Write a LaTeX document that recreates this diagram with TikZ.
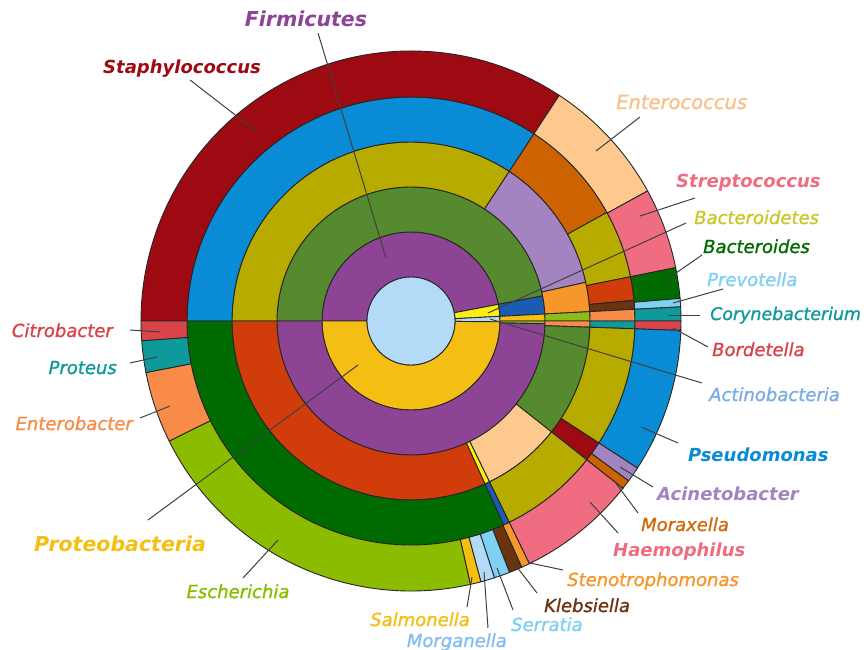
\documentclass[tikz,border=0pt]{standalone}
\usepackage{fontspec}
\setmainfont{DejaVu Sans}[ItalicFeatures={FakeBold=1.2}]
\definecolor{cCenter}{HTML}{B3DBF7}
\definecolor{cPurple}{HTML}{8D4495}
\definecolor{cYellow}{HTML}{F9EF12}
\definecolor{cGold}{HTML}{F5BE12}
\definecolor{cGreen}{HTML}{568A2E}
\definecolor{cDBlue}{HTML}{1A5CB4}
\definecolor{cLime}{HTML}{8CBC1A}
\definecolor{cOrange}{HTML}{F7962B}
\definecolor{cSalmon}{HTML}{F98C49}
\definecolor{cTeal}{HTML}{0E9A9A}
\definecolor{cOlive}{HTML}{B7AB00}
\definecolor{cLav}{HTML}{A384C1}
\definecolor{cPeach}{HTML}{FDC98E}
\definecolor{cRedOr}{HTML}{D03C0A}
\definecolor{cBlue}{HTML}{0A8BD6}
\definecolor{cBrOr}{HTML}{CC6300}
\definecolor{cBrown}{HTML}{6B3410}
\definecolor{cDRed}{HTML}{9E0A12}
\definecolor{cPink}{HTML}{F06C80}
\definecolor{cDGreen}{HTML}{006B00}
\definecolor{cSky}{HTML}{7FD0F5}
\definecolor{cRed}{HTML}{D9444A}
\definecolor{cEsch}{HTML}{8CBC00}
\definecolor{cBactL}{HTML}{CDC62A}
\definecolor{cActiL}{HTML}{7AAEE0}
\definecolor{cMorgL}{HTML}{86BDF0}
\definecolor{cMoraL}{HTML}{D06A10}
\definecolor{cEnteL}{HTML}{F9C088}
\newcommand\skSector[5]{%
  \filldraw[fill=#5, sectorline] (#3:#1) arc[start angle=#3, end angle=#4, radius=#1]
    -- (#4:#2) arc[start angle=#4, end angle=#3, radius=#2] -- cycle;}
\begin{document}
\begin{tikzpicture}[x=1pt,y=1pt,
  sectorline/.style={draw=black!85, line width=0.9pt},
  lbl/.style={font=\fontsize{18}{21}\selectfont\itshape, inner sep=0pt},
  blbl/.style={font=\fontsize{18}{21}\selectfont\bfseries\itshape, inner sep=0pt},
  biglbl/.style={font=\fontsize{20.5}{24}\selectfont\bfseries\itshape, inner sep=0pt},
  leader/.style={draw=black!75, line width=1pt}]
\useasboundingbox (0,0) rectangle (864,-650);
\fill[white] (0,0) rectangle (864,-650);
\begin{scope}[shift={(411,-321)}]
% ring 1 : phylum
\skSector{44}{89}{180}{10.8}{cPurple}
\skSector{44}{89}{10.8}{3}{cYellow}
\skSector{44}{89}{3}{-0.5}{cCenter}
\skSector{44}{89}{-0.5}{-180}{cGold}
% ring 2 : class
\skSector{89}{134}{180}{10.8}{cGreen}
\skSector{89}{134}{10.8}{3}{cDBlue}
\skSector{89}{134}{3}{0}{cGold}
\skSector{89}{134}{0}{-1.2}{cLime}
\skSector{89}{134}{-1.2}{-180}{cPurple}
% ring 3 : order
\skSector{134}{179}{180}{56.7}{cOlive}
\skSector{134}{179}{56.7}{12.5}{cLav}
\skSector{134}{179}{12.5}{3}{cOrange}
\skSector{134}{179}{3}{0}{cLime}
\skSector{134}{179}{0}{-2}{cSalmon}
\skSector{134}{179}{-2}{-38.3}{cGreen}
\skSector{134}{179}{-38.3}{-64}{cPeach}
\skSector{134}{179}{-64}{-65.6}{cYellow}
\skSector{134}{179}{-65.6}{-180}{cRedOr}
% ring 4 : family
\skSector{179}{224}{180}{56.7}{cBlue}
\skSector{179}{224}{56.7}{29}{cBrOr}
\skSector{179}{224}{29}{11.4}{cOlive}
\skSector{179}{224}{11.4}{5.3}{cRedOr}
\skSector{179}{224}{5.3}{3}{cBrown}
\skSector{179}{224}{3}{0}{cSalmon}
\skSector{179}{224}{0}{-2}{cTeal}
\skSector{179}{224}{-2}{-33}{cOlive}
\skSector{179}{224}{-33}{-38.3}{cDRed}
\skSector{179}{224}{-38.3}{-64}{cOlive}
\skSector{179}{224}{-64}{-65.6}{cDBlue}
\skSector{179}{224}{-65.6}{-180}{cDGreen}
% ring 5 : genus
\skSector{224}{270}{180}{56.7}{cDRed}
\skSector{224}{270}{56.7}{28.8}{cPeach}
\skSector{224}{270}{28.8}{11.4}{cPink}
\skSector{224}{270}{11.4}{4.8}{cDGreen}
\skSector{224}{270}{4.8}{3}{cSky}
\skSector{224}{270}{3}{0}{cTeal}
\skSector{224}{270}{0}{-2}{cRed}
\skSector{224}{270}{-2}{-33}{cBlue}
\skSector{224}{270}{-33}{-36.3}{cLav}
\skSector{224}{270}{-36.3}{-38.3}{cBrOr}
\skSector{224}{270}{-38.3}{-64}{cPink}
\skSector{224}{270}{-64}{-65.8}{cOrange}
\skSector{224}{270}{-65.8}{-68.6}{cBrown}
\skSector{224}{270}{-68.6}{-72}{cSky}
\skSector{224}{270}{-72}{-75}{cCenter}
\skSector{224}{270}{-75}{-77.3}{cGold}
\skSector{224}{270}{-77.3}{-153.6}{cEsch}
\skSector{224}{270}{-153.6}{-169}{cSalmon}
\skSector{224}{270}{-169}{-175.8}{cTeal}
\skSector{224}{270}{-175.8}{-180}{cRed}
% centre
\filldraw[fill=cCenter, sectorline] (0,0) circle[radius=44];
\end{scope}
% leader targets
\coordinate (pFirm) at (386,-258);
\coordinate (pStaph) at (256,-131);
\coordinate (pEnte) at (596,-151);
\coordinate (pStrep) at (640,-216);
\coordinate (pBacts) at (488,-313);
\coordinate (pBacd) at (666,-280);
\coordinate (pPrev) at (673,-303);
\coordinate (pCory) at (668,-315);
\coordinate (pBord) at (673,-328);
\coordinate (pActi) at (490,-319);
\coordinate (pPseu) at (641,-427);
\coordinate (pAcin) at (620,-467);
\coordinate (pMora) at (615,-482);
\coordinate (pHaem) at (590,-502);
\coordinate (pSten) at (530,-563);
\coordinate (pKleb) at (513,-562);
\coordinate (pSerr) at (497,-568);
\coordinate (pMorg) at (484,-572);
\coordinate (pSalm) at (472,-577);
\coordinate (pEsch) at (278,-540);
\coordinate (pProt) at (358,-365);
\coordinate (pEntb) at (170,-406);
\coordinate (pPrts) at (157,-357);
\coordinate (pCitr) at (160,-332);
% labels
\node[biglbl, text=cPurple, anchor=base] (firm) at (306,-27) {Firmicutes};
\node[blbl, text=cDRed, anchor=base] (staph) at (182,-74) {Staphylococcus};
\node[lbl, text=cEnteL, anchor=base west, font=\fontsize{19.5}{23}\selectfont\itshape] (ente) at (616,-109) {Enterococcus};
\node[blbl, text=cPink, anchor=base west] (strep) at (676,-187) {Streptococcus};
\node[lbl, text=cBactL, anchor=base west] (bacts) at (694,-224) {Bacteroidetes};
\node[lbl, text=cDGreen, anchor=base west] (bacd) at (703,-253) {Bacteroides};
\node[lbl, text=cSky, anchor=base west] (prev) at (707,-286) {Prevotella};
\node[lbl, text=cTeal, anchor=base west, font=\fontsize{17.4}{21}\selectfont\itshape] (cory) at (710,-320) {Corynebacterium};
\node[lbl, text=cRed, anchor=base west] (bord) at (712,-356) {Bordetella};
\node[lbl, text=cActiL, anchor=base west] (acti) at (709,-401) {Actinobacteria};
\node[blbl, text=cBlue, anchor=base west] (pseu) at (688,-461) {Pseudomonas};
\node[blbl, text=cLav, anchor=base west] (acin) at (657,-500) {Acinetobacter};
\node[lbl, text=cMoraL, anchor=base west] (mora) at (641,-531) {Moraxella};
\node[blbl, text=cPink, anchor=base west] (haem) at (613,-556) {Haemophilus};
\node[lbl, text=cOrange, anchor=base west] (sten) at (567,-586) {Stenotrophomonas};
\node[lbl, text=cBrown, anchor=base west] (kleb) at (544,-612) {Klebsiella};
\node[lbl, text=cSky, anchor=base west] (serr) at (511,-631) {Serratia};
\node[lbl, text=cMorgL, anchor=base east] (morg) at (507,-647) {Morganella};
\node[lbl, text=cGold, anchor=base east] (salm) at (470,-626) {Salmonella};
\node[lbl, text=cEsch, anchor=base] (esch) at (238,-598) {Escherichia};
\node[biglbl, text=cGold, anchor=base] (prot) at (120,-551) {Proteobacteria};
\node[lbl, text=cSalmon, anchor=base east] (entb) at (133,-430) {Enterobacter};
\node[lbl, text=cTeal, anchor=base east] (prts) at (117,-374) {Proteus};
\node[lbl, text=cRed, anchor=base east] (citr) at (113,-337) {Citrobacter};
% leaders
\draw[leader] ([shift={(12,-6)}]firm.base) -- (pFirm);
\draw[leader] ([shift={(8,-6)}]staph.base) -- (pStaph);
\draw[leader] ([shift={(24,-8)}]ente.base west) -- (pEnte);
\draw[leader] ([shift={(19,-11)}]strep.base west) -- (pStrep);
\draw[leader] ([shift={(-8,1)}]bacts.base west) -- (pBacts);
\draw[leader] ([shift={(-1,-2)}]bacd.base west) -- (pBacd);
\draw[leader] ([shift={(16,-3)}]prev.base west) -- (pPrev);
\draw[leader] ([shift={(-10,5)}]cory.base west) -- (pCory);
\draw[leader] ([shift={(-4,9)}]bord.base west) -- (pBord);
\draw[leader] ([shift={(-7,18)}]acti.base west) -- (pActi);
\draw[leader] ([shift={(-10,18)}]pseu.base west) -- (pPseu);
\draw[leader] ([shift={(-4,13)}]acin.base west) -- (pAcin);
\draw[leader] ([shift={(-3,18)}]mora.base west) -- (pMora);
\draw[leader] ([shift={(5,23)}]haem.base west) -- (pHaem);
\draw[leader] ([shift={(-4,16)}]sten.base west) -- (pSten);
\draw[leader] ([shift={(-7,19)}]kleb.base west) -- (pKleb);
\draw[leader] ([shift={(2,21)}]serr.base west) -- (pSerr);
\draw[leader] ([shift={(-19,19)}]morg.base east) -- (pMorg);
\draw[leader] ([shift={(-3,19)}]salm.base east) -- (pSalm);
\draw[leader] ([shift={(5,20)}]esch.base) -- (pEsch);
\draw[leader] ([shift={(28,31)}]prot.base) -- (pProt);
\draw[leader] ([shift={(7,12)}]entb.base east) -- (pEntb);
\draw[leader] ([shift={(13,11)}]prts.base east) -- (pPrts);
\draw[leader] ([shift={(17,7)}]citr.base east) -- (pCitr);
\end{tikzpicture}
\end{document}
